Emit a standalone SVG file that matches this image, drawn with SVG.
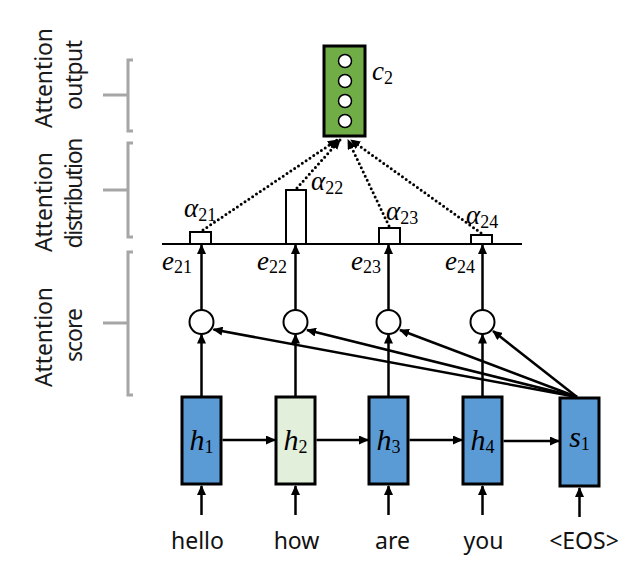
<svg xmlns="http://www.w3.org/2000/svg" width="641" height="567" viewBox="0 0 641 567">
<style>
.box{stroke:#000;stroke-width:3}
.blue{fill:#5b9bd5}
.lg{fill:#e2efda}
.ln{fill:none;stroke:#000;stroke-width:2.5}
.dot{fill:none;stroke:#000;stroke-width:3;stroke-dasharray:0 4.6;stroke-linecap:round}
.brk{fill:none;stroke:#a6a6a6;stroke-width:3}
.side{font-family:"Noto Sans","DejaVu Sans",sans-serif;font-size:23px;fill:#1a1a1a;text-anchor:middle}
.word{font-family:"Noto Sans","DejaVu Sans",sans-serif;font-size:23px;fill:#111;text-anchor:middle}
.m{font-family:"Liberation Serif","DejaVu Serif",serif;font-size:27px;fill:#000}
.hb{font-size:30px}
.mi{font-style:italic}
.sub{font-size:18px;font-style:normal}
.circ{fill:#fff;stroke:#000;stroke-width:2}
.ab{fill:#fff;stroke:#000;stroke-width:2}
</style>
<defs>
<marker id="ah" markerUnits="userSpaceOnUse" markerWidth="10" markerHeight="9" refX="9" refY="4.5" orient="auto">
<path d="M0,0 L10,4.5 L0,9 z" fill="#000"/>
</marker>
</defs>

<g id="labels-side">
<path class="brk" d="M133,60 H128 V131 H133 M103,95 H128"/>
<path class="brk" d="M133,143 H128 V237 H133 M103,190 H128"/>
<path class="brk" d="M133,252 H128 V395 H133 M103,323 H128"/>
<text class="side" transform="translate(52,78) rotate(-90)" textLength="100">Attention</text>
<text class="side" transform="translate(82,75) rotate(-90)" textLength="70">output</text>
<text class="side" transform="translate(52,202) rotate(-90)" textLength="100">Attention</text>
<text class="side" transform="translate(82,193) rotate(-90)" textLength="111">distribution</text>
<text class="side" transform="translate(52,337) rotate(-90)" textLength="100">Attention</text>
<text class="side" transform="translate(82,335) rotate(-90)" textLength="54">score</text>
</g>

<g id="connectors">
<line class="ln" x1="162" y1="244" x2="522" y2="244" style="stroke-width:2"/>
<line class="ln" x1="201.5" y1="515" x2="201.5" y2="486" marker-end="url(#ah)"/>
<line class="ln" x1="295.5" y1="515" x2="295.5" y2="486" marker-end="url(#ah)"/>
<line class="ln" x1="388.5" y1="515" x2="388.5" y2="486" marker-end="url(#ah)"/>
<line class="ln" x1="482.5" y1="515" x2="482.5" y2="486" marker-end="url(#ah)"/>
<line class="ln" x1="579.5" y1="517" x2="579.5" y2="488" marker-end="url(#ah)"/>
<line class="ln" x1="222.5" y1="440" x2="275" y2="440" marker-end="url(#ah)"/>
<line class="ln" x1="316.5" y1="440" x2="368" y2="440" marker-end="url(#ah)"/>
<line class="ln" x1="409.5" y1="440" x2="462" y2="440" marker-end="url(#ah)"/>
<line class="ln" x1="503.5" y1="441" x2="559" y2="441" marker-end="url(#ah)"/>
<line class="ln" x1="201.5" y1="396" x2="201.5" y2="334.5" marker-end="url(#ah)"/>
<line class="ln" x1="295.5" y1="396" x2="295.5" y2="334.5" marker-end="url(#ah)"/>
<line class="ln" x1="388.5" y1="396" x2="388.5" y2="334.5" marker-end="url(#ah)"/>
<line class="ln" x1="482.5" y1="396" x2="482.5" y2="334.5" marker-end="url(#ah)"/>
<line class="ln" x1="577" y1="397" x2="213.5" y2="329.5" marker-end="url(#ah)"/>
<line class="ln" x1="577" y1="397" x2="307" y2="330" marker-end="url(#ah)"/>
<line class="ln" x1="577" y1="397" x2="400" y2="330" marker-end="url(#ah)"/>
<line class="ln" x1="577" y1="397" x2="493" y2="331" marker-end="url(#ah)"/>
<line class="ln" x1="201.5" y1="310" x2="201.5" y2="245" marker-end="url(#ah)"/>
<line class="ln" x1="295.5" y1="310" x2="295.5" y2="245" marker-end="url(#ah)"/>
<line class="ln" x1="388.5" y1="310" x2="388.5" y2="245" marker-end="url(#ah)"/>
<line class="ln" x1="482.5" y1="310" x2="482.5" y2="245" marker-end="url(#ah)"/>
<line class="dot" x1="203" y1="230" x2="337" y2="140" marker-end="url(#ah)"/>
<line class="dot" x1="297" y1="188" x2="340" y2="140" marker-end="url(#ah)"/>
<line class="dot" x1="389" y1="226" x2="348" y2="140" marker-end="url(#ah)"/>
<line class="dot" x1="481" y1="233" x2="351" y2="140" marker-end="url(#ah)"/>
</g>

<g id="c2">
<rect x="324" y="46" width="41" height="90" fill="#70ad47" class="box"/>
<circle cx="345" cy="61" r="6.5" fill="#fff" stroke="#000" stroke-width="1.5"/>
<circle cx="345" cy="81" r="6.5" fill="#fff" stroke="#000" stroke-width="1.5"/>
<circle cx="345" cy="101" r="6.5" fill="#fff" stroke="#000" stroke-width="1.5"/>
<circle cx="345" cy="121" r="6.5" fill="#fff" stroke="#000" stroke-width="1.5"/>
<text class="m" x="372" y="80"><tspan class="mi">c</tspan><tspan class="sub" dy="4">2</tspan></text>
</g>

<g id="alpha21">
<rect class="ab" x="190" y="232" width="21" height="12"/>
<text class="m" x="184" y="217"><tspan class="mi">α</tspan><tspan class="sub" dy="4">21</tspan></text>
</g>
<g id="alpha22">
<rect class="ab" x="286" y="190" width="20" height="54"/>
<text class="m" x="311" y="190"><tspan class="mi">α</tspan><tspan class="sub" dy="4">22</tspan></text>
</g>
<g id="alpha23">
<rect class="ab" x="379" y="228" width="21" height="16"/>
<text class="m" x="386" y="220"><tspan class="mi">α</tspan><tspan class="sub" dy="4">23</tspan></text>
</g>
<g id="alpha24">
<rect class="ab" x="471" y="235" width="21" height="9"/>
<text class="m" x="466" y="224"><tspan class="mi">α</tspan><tspan class="sub" dy="4">24</tspan></text>
</g>

<g id="e-labels">
<text class="m" x="192" y="270" text-anchor="end"><tspan class="mi">e</tspan><tspan class="sub" dy="3">21</tspan></text>
<text class="m" x="287" y="270" text-anchor="end"><tspan class="mi">e</tspan><tspan class="sub" dy="3">22</tspan></text>
<text class="m" x="381" y="270" text-anchor="end"><tspan class="mi">e</tspan><tspan class="sub" dy="3">23</tspan></text>
<text class="m" x="475" y="270" text-anchor="end"><tspan class="mi">e</tspan><tspan class="sub" dy="3">24</tspan></text>
</g>

<g id="score1"><circle class="circ" cx="201.5" cy="322" r="12"/></g>
<g id="score2"><circle class="circ" cx="295.5" cy="322" r="12"/></g>
<g id="score3"><circle class="circ" cx="388.5" cy="322" r="12"/></g>
<g id="score4"><circle class="circ" cx="482.5" cy="322" r="12"/></g>

<g id="h1">
<rect class="box blue" x="182" y="397" width="39" height="87"/>
<text class="m hb" x="201.5" y="450" text-anchor="middle"><tspan class="mi">h</tspan><tspan class="sub" dy="3">1</tspan></text>
</g>
<g id="h2">
<rect class="box lg" x="276" y="397" width="39" height="87"/>
<text class="m hb" x="295.5" y="450" text-anchor="middle"><tspan class="mi">h</tspan><tspan class="sub" dy="3">2</tspan></text>
</g>
<g id="h3">
<rect class="box blue" x="369" y="397" width="39" height="87"/>
<text class="m hb" x="388.5" y="450" text-anchor="middle"><tspan class="mi">h</tspan><tspan class="sub" dy="3">3</tspan></text>
</g>
<g id="h4">
<rect class="box blue" x="463" y="397" width="39" height="87"/>
<text class="m hb" x="482.5" y="450" text-anchor="middle"><tspan class="mi">h</tspan><tspan class="sub" dy="3">4</tspan></text>
</g>
<g id="s1">
<rect class="box blue" x="560" y="398" width="39" height="88"/>
<text class="m hb" x="579.5" y="447" text-anchor="middle"><tspan class="mi">s</tspan><tspan class="sub" dy="3">1</tspan></text>
</g>

<g id="words">
<text class="word" x="197.5" y="549">hello</text>
<text class="word" x="296.5" y="549">how</text>
<text class="word" x="392.5" y="549">are</text>
<text class="word" x="483.5" y="549">you</text>
<text class="word" x="584" y="549">&lt;EOS&gt;</text>
</g>
</svg>
